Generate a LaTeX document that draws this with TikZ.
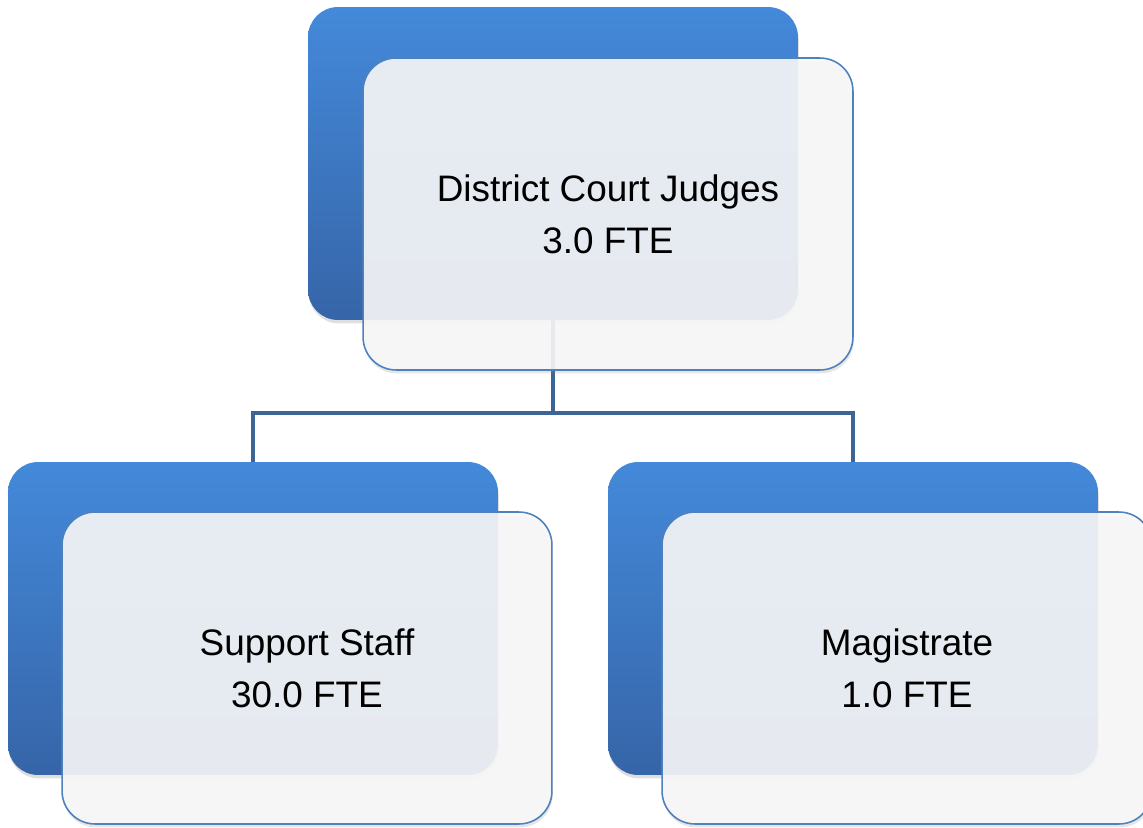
\documentclass[tikz,border=0pt]{standalone}
\usepackage{fontspec}
\setmainfont{Liberation Sans}
\usetikzlibrary{shadows}
\definecolor{boxblue}{RGB}{68,137,218}
\definecolor{boxbluemid}{RGB}{62,126,205}
\definecolor{boxbluedark}{RGB}{54,101,168}
\definecolor{cardfill}{RGB}{248,248,249}
\definecolor{cardedge}{RGB}{79,129,189}
\definecolor{linkblue}{RGB}{62,100,150}
\tikzset{backbox/.style = {rounded corners=0.6cm, minimum width=9.8cm, minimum height=6.26cm,
                           top color=boxblue, middle color=boxbluemid, bottom color=boxbluedark,
                           drop shadow={opacity=0.25, shadow xshift=0.5pt, shadow yshift=-2pt}}}
\tikzset{frontbox/.style = {rounded corners=0.66cm, minimum width=9.8cm, minimum height=6.24cm,
                            draw=cardedge, line width=0.9pt, fill=cardfill, fill opacity=0.9, text opacity=1,
                            align=center, font=\fontsize{21}{29.5}\selectfont,
                            drop shadow={opacity=0.2, shadow xshift=0.5pt, shadow yshift=-2pt}}}
\tikzset{link/.style = {draw=linkblue, line width=2.3pt}}

\begin{document}
\begin{tikzpicture}[x=0.02cm, y=-0.02cm]
      \useasboundingbox (0, 0) rectangle (1143, 828);

      \node [backbox] (judgesback) at (553, 163.5) {};
      \node [backbox] (staffback) at (253, 618.5) {};
      \node [backbox] (magback) at (853, 618.5) {};

      \coordinate (split) at (553, 413);
      \draw [link] (judgesback.south) -- (split) -| (staffback.north);
      \draw [link] (split) -| (magback.north);

      \node [frontbox] (judges) at (608, 214) {District Court Judges\\3.0 FTE};
      \node [frontbox] (staff) at (307, 668) {Support Staff\\30.0 FTE};
      \node [frontbox] (mag) at (907, 668) {Magistrate\\1.0 FTE};
    \end{tikzpicture}
\end{document}
